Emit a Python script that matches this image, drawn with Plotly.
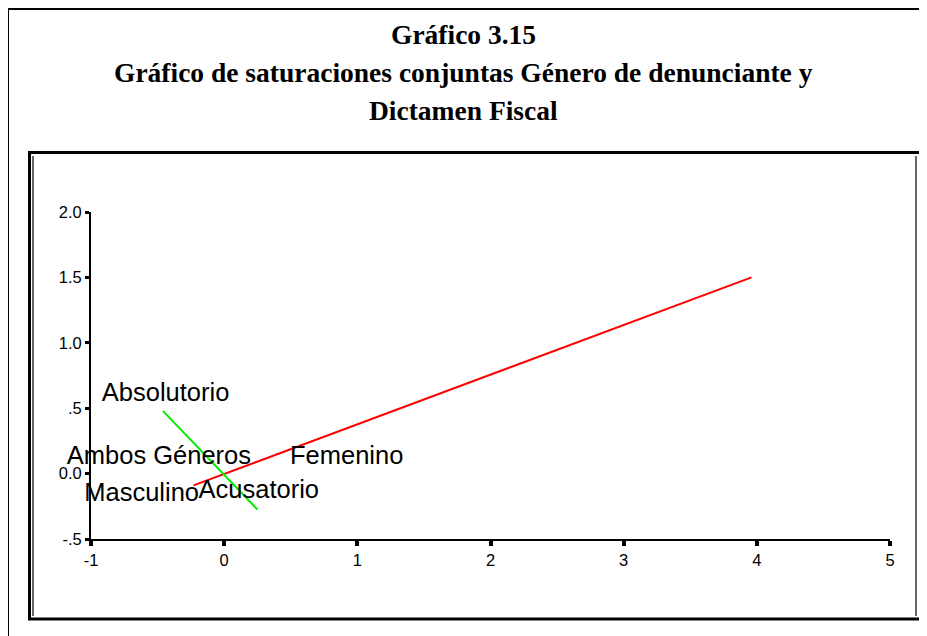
import plotly.graph_objects as go

# data
red_x = [-0.23, 3.96]
red_y = [-0.09, 1.50]
green_x = [-0.46, 0.25]
green_y = [0.48, -0.275]

label_text = ["Absolutorio", "Ambos Géneros", "Femenino", "Masculino", "Acusatorio"]
label_x = [-0.44, -0.49, 0.92, -0.62, 0.26]
label_y = [0.60, 0.12, 0.12, -0.16, -0.14]

x_ticks = [-1, 0, 1, 2, 3, 4, 5]
x_ticktext = ["-1", "0", "1", "2", "3", "4", "5"]
y_ticks = [-0.5, 0.0, 0.5, 1.0, 1.5, 2.0]
y_ticktext = ["-.5", "0.0", ".5", "1.0", "1.5", "2.0"]

title_lines = ["Gráfico 3.15",
               "Gráfico de saturaciones conjuntas Género de denunciante y",
               "Dictamen Fiscal"]

# page is 927x636, the browser body adds an 8px margin
OFF = 8
W, H = 927 - OFF, 636 - OFF
ML, MR, MT, MB = 91 - OFF, 37, 212 - OFF, 97
PW, PH = W - ML - MR, H - MT - MB


def px2x(px):
    # page pixel -> paper x
    return (px - OFF - ML) / PW


def py2y(py):
    # page pixel -> paper y
    return (H - MB - (py - OFF)) / PH


fig = go.Figure()

fig.add_trace(go.Scatter(x=red_x, y=red_y, mode="lines",
                         line=dict(color="#ff0000", width=2), showlegend=False))
fig.add_trace(go.Scatter(x=green_x, y=green_y, mode="lines",
                         line=dict(color="#00ee00", width=2), showlegend=False))
fig.add_trace(go.Scatter(x=label_x, y=label_y, mode="text", text=label_text,
                         textposition="middle center", cliponaxis=False,
                         textfont=dict(family="Liberation Sans", size=25.5, color="black"),
                         showlegend=False))

# AXES
tick_font = dict(family="Liberation Sans", size=16.5, color="black")
fig.update_xaxes(range=[-1, 5], tickvals=x_ticks, ticktext=x_ticktext,
                 showline=True, linecolor="black", linewidth=2,
                 ticks="outside", ticklen=5, tickwidth=4, tickcolor="black",
                 showgrid=False, zeroline=False, tickfont=tick_font)
fig.update_yaxes(range=[-0.5, 2.0], tickvals=y_ticks, ticktext=y_ticktext,
                 showline=True, linecolor="black", linewidth=2,
                 ticks="outside", ticklen=4, tickwidth=3, tickcolor="black",
                 showgrid=False, zeroline=False, tickfont=tick_font)

# FRAMES
shapes = [
    # outer page frame (left and top only visible)
    dict(type="line", x0=px2x(8), x1=px2x(8), y0=py2y(9), y1=py2y(660),
         line=dict(color="black", width=2)),
    dict(type="line", x0=px2x(7), x1=px2x(950), y0=py2y(9), y1=py2y(9),
         line=dict(color="black", width=2)),
    # inner chart frame
    dict(type="rect", x0=px2x(29.5), x1=px2x(921.5), y0=py2y(619), y1=py2y(152.5),
         line=dict(color="black", width=3)),
    dict(type="line", x0=px2x(33), x1=px2x(33), y0=py2y(616), y1=py2y(156),
         line=dict(color="#333333", width=1.5)),
    dict(type="line", x0=px2x(916), x1=px2x(916), y0=py2y(616), y1=py2y(156),
         line=dict(color="#333333", width=1.5)),
]
for s in shapes:
    s.update(xref="paper", yref="paper")

# TITLE
title_y = [35, 72, 110]
annotations = [dict(text=t, xref="paper", yref="paper", x=px2x(463.5), y=py2y(yy),
                    xanchor="center", yanchor="middle", showarrow=False,
                    font=dict(family="Liberation Serif", size=27.5, color="black",
                              weight="bold"))
               for t, yy in zip(title_lines, title_y)]

fig.update_layout(width=W, height=H, margin=dict(l=ML, r=MR, t=MT, b=MB, pad=0),
                  paper_bgcolor="white", plot_bgcolor="white",
                  shapes=shapes, annotations=annotations, showlegend=False)

fig.write_html("out.html")
